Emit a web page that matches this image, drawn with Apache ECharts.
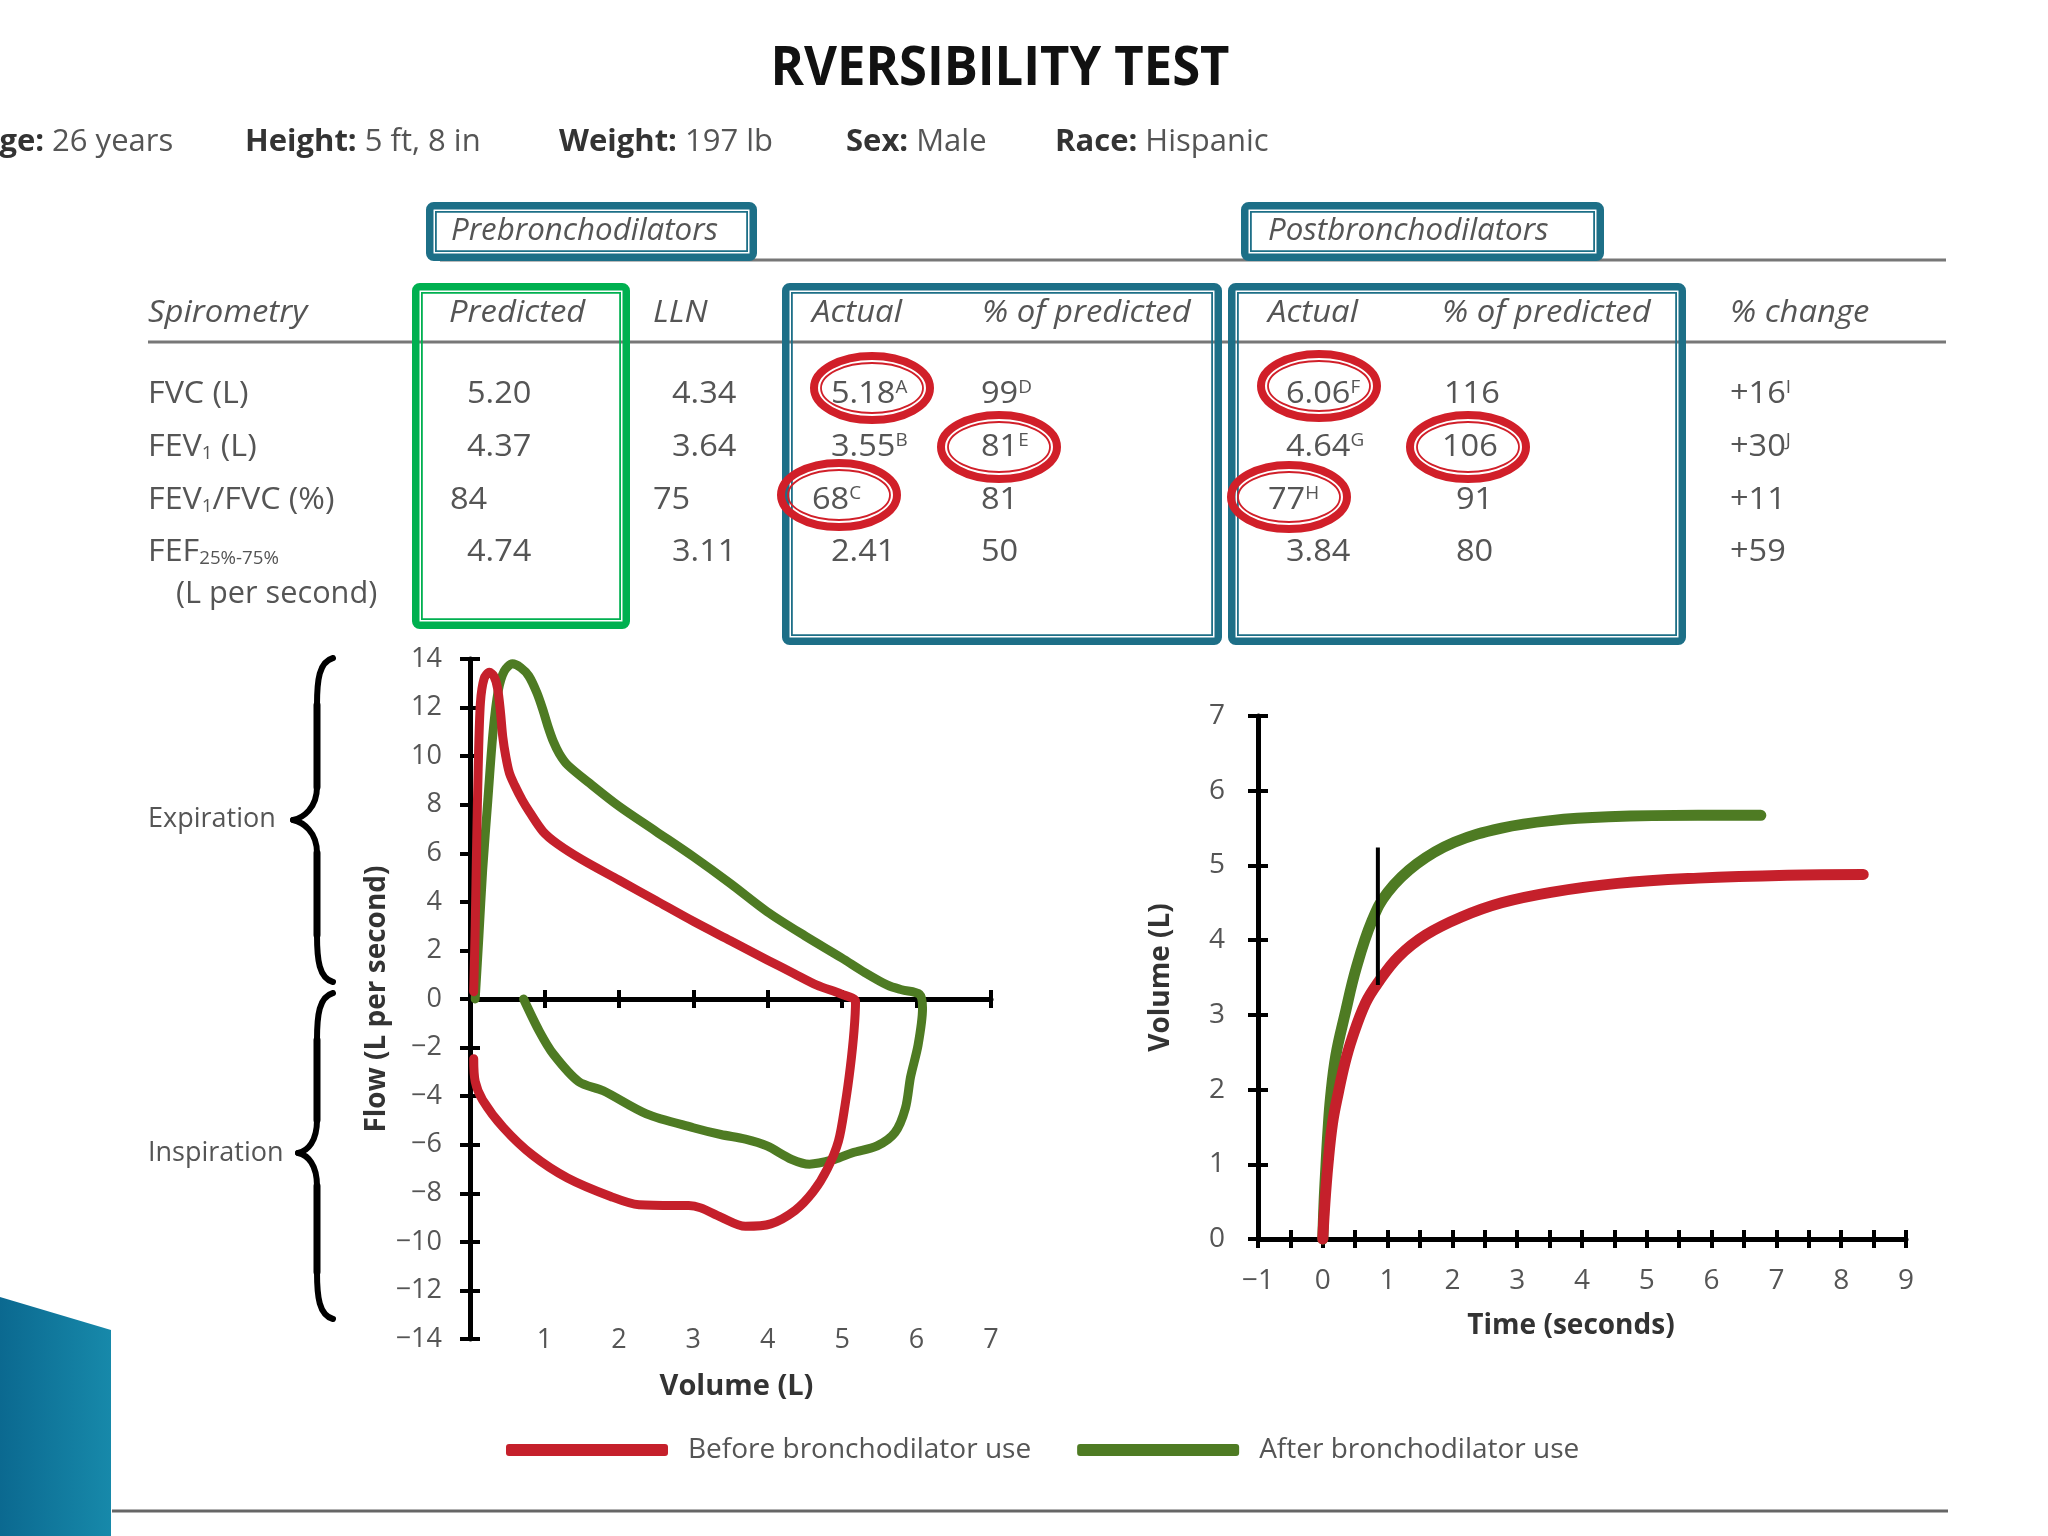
<!DOCTYPE html>
<html><head><meta charset="utf-8">
<script src="https://cdn.jsdelivr.net/npm/echarts@6/dist/echarts.min.js"></script>
<style>html,body{margin:0;padding:0;background:#fff}#c{width:2048px;height:1536px}</style>
</head><body><div id="c"></div><script>
// ---------------- DATA ----------------
// Flow-volume loop: [volume (L), flow (L/s)]
const flowVolBefore = [[0.05,0.3],[0.07,3.0],[0.09,6.5],[0.11,9.5],[0.14,12.2],[0.19,13.2],[0.26,13.45],[0.32,13.3],[0.37,12.8],[0.41,11.8],[0.44,10.8],[0.48,10.0],[0.53,9.3],[0.6,8.8],[0.7,8.2],[0.8,7.7],[0.98,6.9],[1.17,6.4],[1.5,5.75],[2.0,4.9],[2.5,4.05],[3.0,3.2],[3.5,2.4],[4.0,1.6],[4.35,1.05],[4.66,0.57],[4.99,0.2],[5.18,-0.1],[5.16,-1.3],[5.11,-2.8],[5.04,-4.35],[4.95,-5.86],[4.8,-7.0],[4.61,-7.94],[4.37,-8.7],[4.04,-9.26],[3.7,-9.36],[3.37,-8.98],[3.1,-8.6],[2.94,-8.5],[2.75,-8.5],[2.27,-8.47],[1.89,-8.13],[1.31,-7.37],[0.84,-6.43],[0.45,-5.3],[0.17,-4.16],[0.07,-3.4],[0.05,-2.46]];
const flowVolAfter = [[0.07,0],[0.12,2.6],[0.17,5.3],[0.24,8.2],[0.31,11.0],[0.38,12.7],[0.46,13.5],[0.57,13.8],[0.68,13.65],[0.79,13.3],[0.9,12.6],[0.98,11.9],[1.05,11.2],[1.12,10.6],[1.2,10.1],[1.31,9.64],[1.6,8.9],[2.0,7.94],[2.5,6.9],[3.0,5.86],[3.5,4.75],[3.99,3.6],[4.5,2.6],[4.99,1.7],[5.3,1.1],[5.61,0.57],[5.8,0.38],[6.04,0.19],[6.08,-0.38],[6.02,-1.9],[5.92,-3.2],[5.85,-4.5],[5.71,-5.5],[5.47,-6.05],[5.14,-6.33],[4.9,-6.6],[4.56,-6.8],[4.32,-6.6],[3.99,-6.05],[3.7,-5.77],[3.37,-5.58],[3.0,-5.3],[2.37,-4.73],[1.79,-3.78],[1.46,-3.4],[1.12,-2.27],[0.93,-1.32],[0.72,0]];
// Volume-time curve: [time (s), volume (L)]
const volTimeBefore = [[0,0],[0.03,0.45],[0.08,1.0],[0.15,1.55],[0.24,1.96],[0.34,2.35],[0.45,2.68],[0.66,3.16],[0.86,3.44],[1.17,3.78],[1.59,4.07],[2.14,4.31],[2.76,4.5],[3.52,4.64],[4.55,4.76],[5.79,4.83],[7.17,4.87],[8.34,4.88]];
const volTimeAfter = [[0,0],[0.02,0.5],[0.05,1.0],[0.08,1.45],[0.12,1.9],[0.2,2.45],[0.34,3.0],[0.52,3.64],[0.76,4.26],[1.0,4.64],[1.45,5.02],[2.03,5.31],[2.76,5.5],[3.52,5.6],[4.41,5.65],[5.79,5.67],[6.76,5.67]];
const fev1Marker = [[0.85,3.40],[0.85,5.24]];

const seriesNames = ['Before bronchodilator use','After bronchodilator use'];

// Table
const rowLabels = ['FVC (L)','FEV{sub|1} (L)','FEV{sub|1}/FVC (%)','FEF{sub|25%-75%}'];
const predicted = ['5.20','4.37','84','4.74'];
const lln = ['4.34','3.64','75','3.11'];
const preActual = ['5.18','3.55','68','2.41'];
const preActualSup = ['A','B','C',''];
const prePct = ['99','81','81','50'];
const prePctSup = ['D','E','',''];
const postActual = ['6.06','4.64','77','3.84'];
const postActualSup = ['F','G','H',''];
const postPct = ['116','106','91','80'];
const pctChange = ['+16','+30','+11','+59'];
const pctChangeSup = ['I','J','',''];
const headers = ['Spirometry','Predicted','LLN','Actual','% of predicted','Actual','% of predicted','% change'];
const patient = [['Age:','26 years'],['Height:','5 ft, 8 in'],['Weight:','197 lb'],['Sex:','Male'],['Race:','Hispanic']];

// ---------------- STYLE / LAYOUT ----------------
const FONT = "'Open Sans', 'DejaVu Sans', sans-serif";
const GREY = '#555', DARK = '#333';
const TEAL = '#1d6f87', GBOX = '#00b050', RING = '#d11f29';
const RED = '#c5202b', GREEN = '#4e7b23';

function T(x, y, text, o) {
  o = o || {};
  const fs = o.size || 29;
  const col = o.color || GREY;
  const base = {fontFamily: FONT, fontSize: fs, fontStyle: o.italic ? 'italic' : 'normal', fontWeight: o.bold ? 'bold' : 'normal'};
  const small = Object.assign({}, base, {fontSize: Math.round(fs * 0.58), fill: col});
  return {
    type: 'text', x: x, y: y, z: o.z || 20, scaleX: o.scaleX || 1,
    style: Object.assign({}, base, {
      text: text, fill: col, align: o.align || 'left', verticalAlign: 'middle',
      rich: {
        sup: Object.assign({}, small, {verticalAlign: 'top'}),
        sub: Object.assign({}, small, {verticalAlign: 'bottom'}),
        b: Object.assign({}, base, {fontWeight: 'bold', fill: DARK})
      }
    })
  };
}
function dbox(x1, y1, x2, y2, color) {
  return [
    {type: 'rect', z: 5, shape: {x: x1 + 3.75, y: y1 + 3.75, width: x2 - x1 - 7.5, height: y2 - y1 - 7.5, r: 4}, style: {fill: 'none', stroke: color, lineWidth: 7.5}},
    {type: 'rect', z: 5, shape: {x: x1 + 9.9, y: y1 + 9.9, width: x2 - x1 - 19.8, height: y2 - y1 - 19.8}, style: {fill: 'none', stroke: color, lineWidth: 1.8}}
  ];
}
function ring(cx, cy, rx, ry) {
  return [
    {type: 'ellipse', z: 8, shape: {cx: cx, cy: cy, rx: rx - 4, ry: ry - 4}, style: {fill: 'none', stroke: RING, lineWidth: 8}},
    {type: 'ellipse', z: 8, shape: {cx: cx, cy: cy, rx: rx - 11, ry: ry - 11}, style: {fill: 'none', stroke: RING, lineWidth: 1.8}}
  ];
}
function bez(p0, c1, c2, p1) {
  return {type: 'bezierCurve', z: 5, shape: {x1: p0[0], y1: p0[1], cpx1: c1[0], cpy1: c1[1], cpx2: c2[0], cpy2: c2[1], x2: p1[0], y2: p1[1]}, style: {stroke: '#000', lineWidth: 6, fill: 'none', lineCap: 'round'}};
}
function seg(p0, p1) {
  return {type: 'line', z: 5, shape: {x1: p0[0], y1: p0[1], x2: p1[0], y2: p1[1]}, style: {stroke: '#000', lineWidth: 7, lineCap: 'round'}};
}
function brace(top, mid, bot, tipX, stemX, pointX) {
  return [
    bez([tipX, top], [stemX + 2, top + 4], [stemX, top + 22], [stemX, top + 47]),
    seg([stemX, top + 47], [stemX, mid - 33]),
    bez([stemX, mid - 33], [stemX, mid - 12], [pointX + 10, mid - 2], [pointX, mid]),
    bez([pointX, mid], [pointX + 10, mid + 2], [stemX, mid + 12], [stemX, mid + 33]),
    seg([stemX, mid + 33], [stemX, bot - 47]),
    bez([stemX, bot - 47], [stemX, bot - 22], [stemX + 2, bot - 4], [tipX, bot])
  ];
}

const graphic = [];
// decorative bottom-left block
graphic.push({type: 'polygon', z: 1, shape: {points: [[0, 1297], [111, 1330], [111, 1536], [0, 1536]]},
  style: {fill: {type: 'linear', x: 0, y: 0, x2: 1, y2: 0, colorStops: [{offset: 0, color: '#0b6990'}, {offset: 1, color: '#1789aa'}]}}});
// rules
graphic.push({type: 'line', z: 3, shape: {x1: 440, y1: 260, x2: 1946, y2: 260}, style: {stroke: '#777', lineWidth: 3}});
graphic.push({type: 'line', z: 3, shape: {x1: 148, y1: 342, x2: 1946, y2: 342}, style: {stroke: '#777', lineWidth: 3}});
graphic.push({type: 'line', z: 3, shape: {x1: 112, y1: 1511, x2: 1948, y2: 1511}, style: {stroke: '#666', lineWidth: 3}});
// boxes
[].concat(
  dbox(426, 202, 757, 261, TEAL), dbox(1241, 202, 1604, 261, TEAL),
  dbox(412, 283, 630, 629, GBOX), dbox(782, 283, 1222, 645, TEAL), dbox(1228, 283, 1686, 645, TEAL)
).forEach(function (e) { graphic.push(e); });
// rings
[[872, 388], [999, 447], [839, 495], [1319, 386], [1468, 447], [1289, 497]].forEach(function (c) {
  ring(c[0], c[1], 62, 36).forEach(function (e) { graphic.push(e); });
});
// title
graphic.push(T(1000, 70, 'RVERSIBILITY TEST', {size: 54, bold: true, color: '#111', align: 'center', scaleX: 0.94}));
// patient info
const patientX = [-22, 245, 559, 846, 1055];
patient.forEach(function (p, i) { graphic.push(T(patientX[i], 142, '{b|' + p[0] + '} ' + p[1], {size: 31, scaleX: 1.0})); });
// table headers
graphic.push(T(451, 231, 'Prebronchodilators', {italic: true, size: 31, scaleX: 1.01}));
graphic.push(T(1268, 231, 'Postbronchodilators', {italic: true, size: 31, scaleX: 1.01}));
const headerX = [148, 449, 653, 812, 982, 1268, 1442, 1730];
headers.forEach(function (h, i) { graphic.push(T(headerX[i], 313, h, {italic: true, size: 31, scaleX: 1.06})); });
// table body
const rowY = [394, 447, 500, 552];
const sup = function (v, s) { return s ? v + '{sup|' + s + '}' : v; };
const cols = [
  {vals: predicted, x: [467, 467, 450, 467]},
  {vals: lln, x: [672, 672, 653, 672]},
  {vals: preActual, sups: preActualSup, x: [831, 831, 812, 831]},
  {vals: prePct, sups: prePctSup, x: [981, 981, 981, 981]},
  {vals: postActual, sups: postActualSup, x: [1286, 1286, 1268, 1286]},
  {vals: postPct, x: [1444, 1442, 1456, 1456]},
  {vals: pctChange, sups: pctChangeSup, x: [1730, 1730, 1730, 1730]}
];
rowLabels.forEach(function (l, r) { graphic.push(T(148, rowY[r], l, {size: 31, scaleX: 1.04})); });
graphic.push(T(176, 594, '(L per second)', {size: 31, scaleX: 0.99}));
cols.forEach(function (c) {
  c.vals.forEach(function (v, r) { graphic.push(T(c.x[r], rowY[r], sup(v, c.sups ? c.sups[r] : ''), {size: 31, scaleX: 1.05})); });
});
// braces + labels
brace(658, 820, 982, 333, 317, 293).forEach(function (e) { graphic.push(e); });
brace(993, 1153, 1319, 333, 317, 298).forEach(function (e) { graphic.push(e); });
graphic.push(T(148, 819, 'Expiration', {size: 27}));
graphic.push(T(148, 1153, 'Inspiration', {size: 27}));

// ---------------- AXES ----------------
const minus = function (v) { return v < 0 ? '\u2212' + (-v) : String(v); };
const tickStyle = {color: '#000', width: 4};
const labelStyle = {fontFamily: FONT, fontSize: 27, color: GREY};
const nameStyle = {fontFamily: FONT, fontSize: 28, fontWeight: 'bold', color: DARK, verticalAlign: 'middle'};
function ax(o) {
  return Object.assign({type: 'value', splitLine: {show: false}, axisLine: {show: false, onZero: false}, axisTick: {show: false}, axisLabel: {show: false}}, o);
}
const xAxis = [
  // left chart (grid 0)
  ax({gridIndex: 0, position: 'bottom', min: 0, max: 7, interval: 1,
      axisLabel: Object.assign({show: true, margin: 1, verticalAlign: 'middle', formatter: function (v) { return v === 0 ? '' : String(v); }}, labelStyle),
      name: 'Volume (L)', nameLocation: 'middle', nameGap: 48, nameTextStyle: Object.assign({}, nameStyle, {fontSize: 29, padding: [0, 0, 0, 12]})}),
  ax({gridIndex: 0, position: 'bottom', min: 0, max: 7, interval: 1,
      axisLine: {show: true, onZero: true, onZeroAxisIndex: 0, lineStyle: {color: '#000', width: 5}},
      axisTick: {show: true, inside: false, length: 9, lineStyle: tickStyle}}),
  ax({gridIndex: 0, position: 'top', min: 0, max: 7, interval: 1,
      axisLine: {show: false, onZero: true, onZeroAxisIndex: 0},
      axisTick: {show: true, inside: false, length: 9, lineStyle: tickStyle}}),
  // right chart (grid 1)
  ax({gridIndex: 1, position: 'bottom', min: -1, max: 9, interval: 0.5,
      axisLabel: Object.assign({show: true, margin: 42, verticalAlign: 'middle', formatter: function (v) { return Number.isInteger(v) ? minus(v) : ''; }}, labelStyle, {fontSize: 28}),
      name: 'Time (seconds)', nameLocation: 'middle', nameGap: 87, nameTextStyle: Object.assign({}, nameStyle, {padding: [0, 22, 0, 0]})}),
  ax({gridIndex: 1, position: 'bottom', min: -1, max: 9, interval: 0.5,
      axisLine: {show: true, onZero: false, lineStyle: {color: '#000', width: 5}},
      axisTick: {show: true, inside: false, length: 9, lineStyle: tickStyle}}),
  ax({gridIndex: 1, position: 'top', offset: -523, min: -1, max: 9, interval: 0.5,
      axisTick: {show: true, inside: false, length: 9, lineStyle: tickStyle}})
];
const yAxis = [
  ax({gridIndex: 0, position: 'left', min: -14, max: 14, interval: 2,
      axisLine: {show: true, onZero: false, lineStyle: {color: '#000', width: 5}},
      axisTick: {show: true, inside: false, length: 10, lineStyle: tickStyle},
      axisLabel: Object.assign({show: true, margin: 28, formatter: minus}, labelStyle),
      name: 'Flow (L per second)', nameLocation: 'middle', nameGap: 93, nameTextStyle: nameStyle}),
  ax({gridIndex: 0, position: 'right', offset: -521, min: -14, max: 14, interval: 2,
      axisTick: {show: true, inside: false, length: 10, lineStyle: tickStyle}}),
  ax({gridIndex: 1, position: 'left', min: 0, max: 7, interval: 1,
      axisLine: {show: true, onZero: false, lineStyle: {color: '#000', width: 5}},
      axisTick: {show: true, inside: false, length: 10, lineStyle: tickStyle},
      axisLabel: Object.assign({show: true, margin: 33, formatter: minus}, labelStyle, {fontSize: 28}),
      name: 'Volume (L)', nameLocation: 'middle', nameGap: 97, nameTextStyle: nameStyle}),
  ax({gridIndex: 1, position: 'right', offset: -648, min: 0, max: 7, interval: 1,
      axisTick: {show: true, inside: false, length: 10, lineStyle: tickStyle}})
];

function curve(name, data, color, xi, yi, width, smooth) {
  return {type: 'line', name: name, data: data, xAxisIndex: xi, yAxisIndex: yi, smooth: smooth, symbol: 'none', clip: false,
    color: color, lineStyle: {color: color, width: width, cap: 'round', join: 'round'}, z: 3};
}

const option = {
  animation: false,
  backgroundColor: '#ffffff',
  grid: [
    {left: 470, top: 659, width: 521, height: 680, containLabel: false, outerBoundsMode: 'none'},
    {left: 1258, top: 716, width: 648, height: 523, containLabel: false, outerBoundsMode: 'none'}
  ],
  xAxis: xAxis,
  yAxis: yAxis,
  legend: {
    data: seriesNames, left: 501, top: 1431, itemWidth: 162, itemHeight: 12, itemGap: 46, icon: 'roundRect',
    textStyle: {fontFamily: FONT, fontSize: 28, color: GREY, padding: [0, 0, 0, 15]}
  },
  series: [
    curve(seriesNames[1], flowVolAfter, GREEN, 0, 0, 9, 0.3),
    curve(seriesNames[0], flowVolBefore, RED, 0, 0, 9, 0.3),
    curve(seriesNames[1], volTimeAfter, GREEN, 3, 2, 11, 0.4),
    curve(seriesNames[0], volTimeBefore, RED, 3, 2, 11, 0.4),
    {type: 'line', name: 'FEV1', data: fev1Marker, xAxisIndex: 3, yAxisIndex: 2, symbol: 'none', clip: false,
     lineStyle: {color: '#000', width: 4}, z: 4}
  ],
  graphic: graphic
};
const chart = echarts.init(document.getElementById('c'), null, {renderer: 'canvas'});
chart.setOption(option);
</script></body></html>
